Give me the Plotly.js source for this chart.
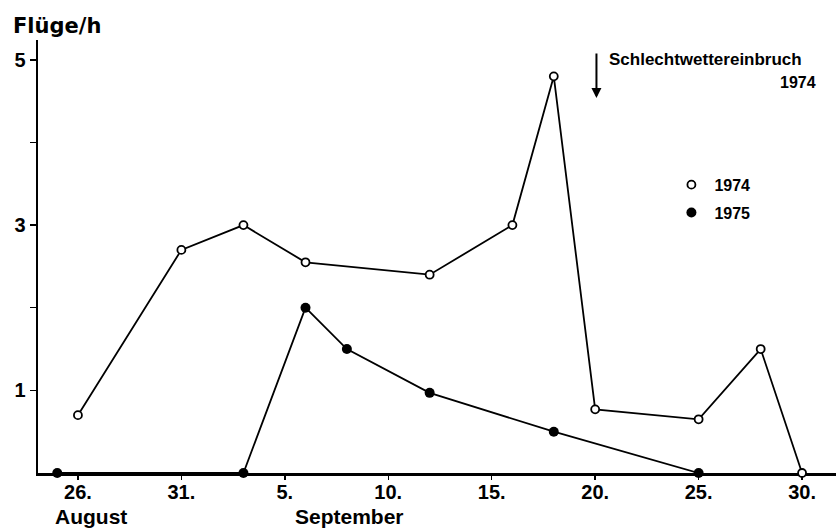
<!DOCTYPE html>
<html>
<head>
<meta charset="utf-8">
<script src="https://cdn.plot.ly/plotly-3.0.1.min.js"></script>
<style>html,body{margin:0;padding:0;background:#fff;}#chart{width:836px;height:531px;}</style>
</head>
<body>
<div id="chart"></div>
<script>
// Observation dates (month-day) and flights per hour
const dates1974 = ['08-26','08-31','09-03','09-06','09-12','09-16','09-18','09-20','09-25','09-28','09-30'];
const values1974 = [0.7, 2.7, 3.0, 2.55, 2.4, 3.0, 4.8, 0.77, 0.65, 1.5, 0];
const dates1975 = ['08-25','09-03','09-06','09-08','09-12','09-18','09-25'];
const values1975 = [0, 0, 2.0, 1.5, 0.97, 0.5, 0];

const tickDates = ['08-26','08-31','09-05','09-10','09-15','09-20','09-25','09-30'];
const tickLabels = ['26.','31.','5.','10.','15.','20.','25.','30.'];
const yTickVals = [1, 2, 3, 4, 5];
const yTickText = ['1', '', '3', '', '5'];
const seriesNames = ['1974', '1975'];

const BASE_YEAR = '2000-';
const toDate = d => BASE_YEAR + d;

const tickFont = {family: 'Liberation Sans, Arial, sans-serif', size: 20, color: '#000', weight: 700};

const traces = [
  {x: dates1974.map(toDate), y: values1974, mode: 'lines', showlegend: false,
   line: {color: '#000', width: 1.8}, cliponaxis: false, hoverinfo: 'skip'},
  {x: dates1975.map(toDate), y: values1975, mode: 'lines', showlegend: false,
   line: {color: '#000', width: 1.8}, cliponaxis: false, hoverinfo: 'skip'},
  {x: dates1974.map(toDate), y: values1974, mode: 'markers', name: seriesNames[0], legendgroup: 'a',
   marker: {symbol: 'circle', size: 8, color: '#fff', line: {color: '#000', width: 1.8}}, cliponaxis: false},
  {x: dates1975.map(toDate), y: values1975, mode: 'markers', name: seriesNames[1], legendgroup: 'b',
   marker: {symbol: 'circle', size: 10, color: '#000', line: {color: '#000', width: 0}}, cliponaxis: false}
];

const layout = {
  width: 836, height: 531,
  margin: {l: 38, r: 0, t: 40, b: 58, pad: 0},
  paper_bgcolor: '#fff', plot_bgcolor: '#fff',
  showlegend: true,
  title: {text: 'Flüge/h', x: 13/836, xref: 'container', xanchor: 'left',
          y: 1 - 26/531, yref: 'container', yanchor: 'middle',
          font: {family: 'DejaVu Sans, sans-serif', size: 21, color: '#000', weight: 700}},
  xaxis: {
    type: 'date',
    range: ['2000-08-24 01:41', '2000-10-01 15:22'],
    tickvals: tickDates.map(toDate), ticktext: tickLabels,
    ticks: 'outside', ticklen: 4, tickwidth: 1.5, tickcolor: '#000',
    showline: true, linecolor: '#000', linewidth: 2.5,
    showgrid: false, zeroline: false, layer: 'below traces',
    tickfont: tickFont, ticklabelstandoff: -5
  },
  yaxis: {
    range: [0, 5.24],
    tickvals: yTickVals, ticktext: yTickText,
    ticks: 'outside', ticklen: 6, tickwidth: 1.5, tickcolor: '#000',
    showline: true, linecolor: '#000', linewidth: 2.5,
    showgrid: false, zeroline: false, layer: 'below traces',
    tickfont: tickFont
  },
  legend: {
    x: 0.79, y: 0.705, xanchor: 'left', yanchor: 'top',
    bgcolor: 'rgba(0,0,0,0)', borderwidth: 0,
    traceorder: 'grouped', tracegroupgap: 4, itemwidth: 36,
    font: {family: 'Liberation Sans, Arial, sans-serif', size: 16, color: '#000', weight: 700}
  },
  annotations: [
    {xref: 'paper', yref: 'paper', x: (91-38)/798, y: (473-516)/433, xanchor: 'center', yanchor: 'middle',
     text: 'August', showarrow: false, font: {family: 'Liberation Sans, Arial, sans-serif', size: 21, color: '#000', weight: 700}},
    {xref: 'paper', yref: 'paper', x: (349-38)/798, y: (473-516)/433, xanchor: 'center', yanchor: 'middle',
     text: 'September', showarrow: false, font: {family: 'Liberation Sans, Arial, sans-serif', size: 21, color: '#000', weight: 700}},
    {xref: 'paper', yref: 'paper', x: (607-38)/798, y: (473-59)/433, xanchor: 'left', yanchor: 'middle',
     text: 'Schlechtwettereinbruch', showarrow: false, font: {family: 'Liberation Sans, Arial, sans-serif', size: 17, color: '#000', weight: 700}},
    {xref: 'paper', yref: 'paper', x: (818-38)/798, y: (473-82.5)/433, xanchor: 'right', yanchor: 'middle',
     text: '1974', showarrow: false, font: {family: 'Liberation Sans, Arial, sans-serif', size: 16, color: '#000', weight: 700}},
    {xref: 'x', yref: 'paper', x: toDate('09-20') + ' 01:30', y: (473-98)/433,
     text: '', showarrow: true, arrowhead: 2, arrowsize: 1, arrowwidth: 2, arrowcolor: '#000',
     ax: 0, ay: -46}
  ]
};

Plotly.newPlot('chart', traces, layout, {displayModeBar: false, staticPlot: true});
</script>
</body>
</html>
